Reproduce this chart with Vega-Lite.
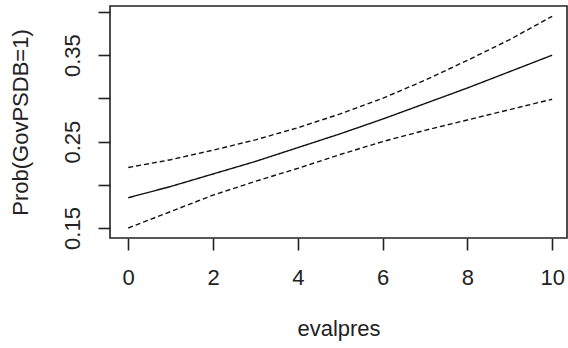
{
  "$schema": "https://vega.github.io/schema/vega-lite/v6.json",
  "autosize": "none",
  "width": 457,
  "height": 232,
  "padding": {"left": 110, "top": 6, "right": 1, "bottom": 110},
  "background": "white",
  "config": {
    "view": {"stroke": "#222222", "strokeWidth": 1.6},
    "axis": {
      "labelFont": "Liberation Sans",
      "titleFont": "Liberation Sans",
      "labelFontSize": 22,
      "titleFontSize": 22,
      "titleFontWeight": "normal",
      "labelColor": "#222222",
      "titleColor": "#222222",
      "tickColor": "#222222",
      "tickSize": 12,
      "tickWidth": 1.6,
      "domain": false,
      "grid": false
    }
  },
  "data": {
    "values": [
      {"evalpres": 0, "series": "fit", "p": 0.185},
      {"evalpres": 1, "series": "fit", "p": 0.198},
      {"evalpres": 2, "series": "fit", "p": 0.2125},
      {"evalpres": 3, "series": "fit", "p": 0.227},
      {"evalpres": 4, "series": "fit", "p": 0.243},
      {"evalpres": 5, "series": "fit", "p": 0.259},
      {"evalpres": 6, "series": "fit", "p": 0.276},
      {"evalpres": 7, "series": "fit", "p": 0.294},
      {"evalpres": 8, "series": "fit", "p": 0.312},
      {"evalpres": 9, "series": "fit", "p": 0.331},
      {"evalpres": 10, "series": "fit", "p": 0.35},
      {"evalpres": 0, "series": "upper", "p": 0.22},
      {"evalpres": 1, "series": "upper", "p": 0.229},
      {"evalpres": 2, "series": "upper", "p": 0.24},
      {"evalpres": 3, "series": "upper", "p": 0.252},
      {"evalpres": 4, "series": "upper", "p": 0.266},
      {"evalpres": 5, "series": "upper", "p": 0.282},
      {"evalpres": 6, "series": "upper", "p": 0.3},
      {"evalpres": 7, "series": "upper", "p": 0.321},
      {"evalpres": 8, "series": "upper", "p": 0.344},
      {"evalpres": 9, "series": "upper", "p": 0.368},
      {"evalpres": 10, "series": "upper", "p": 0.395},
      {"evalpres": 0, "series": "lower", "p": 0.15},
      {"evalpres": 1, "series": "lower", "p": 0.169},
      {"evalpres": 2, "series": "lower", "p": 0.188},
      {"evalpres": 3, "series": "lower", "p": 0.204},
      {"evalpres": 4, "series": "lower", "p": 0.219},
      {"evalpres": 5, "series": "lower", "p": 0.235},
      {"evalpres": 6, "series": "lower", "p": 0.25},
      {"evalpres": 7, "series": "lower", "p": 0.263},
      {"evalpres": 8, "series": "lower", "p": 0.275},
      {"evalpres": 9, "series": "lower", "p": 0.287},
      {"evalpres": 10, "series": "lower", "p": 0.299}
    ]
  },
  "mark": {"type": "line", "color": "#111111", "strokeWidth": 1.4, "clip": true},
  "encoding": {
    "x": {
      "field": "evalpres",
      "type": "quantitative",
      "scale": {"domain": [-0.43, 10.35], "nice": false, "zero": false},
      "axis": {"values": [0, 2, 4, 6, 8, 10], "labelPadding": 17, "title": "evalpres", "titlePadding": 30, "labelFlush": false}
    },
    "y": {
      "field": "p",
      "type": "quantitative",
      "scale": {"domain": [0.1384, 0.4069], "nice": false, "zero": false},
      "axis": {
        "values": [0.15, 0.2, 0.25, 0.3, 0.35, 0.4],
        "labelExpr": "(abs(datum.value-0.15)<0.001||abs(datum.value-0.25)<0.001||abs(datum.value-0.35)<0.001) ? format(datum.value, '.2f') : ''",
        "labelAngle": 270,
        "labelAlign": "center",
        "labelBaseline": "middle",
        "labelPadding": 26,
        "labelFlush": false,
        "title": "Prob(GovPSDB=1)",
        "titlePadding": 29
      }
    },
    "detail": {"field": "series"},
    "strokeDash": {
      "field": "series",
      "type": "nominal",
      "scale": {"domain": ["fit", "lower", "upper"], "range": [[1, 0], [5, 3], [5, 3]]},
      "legend": null
    }
  }
}
